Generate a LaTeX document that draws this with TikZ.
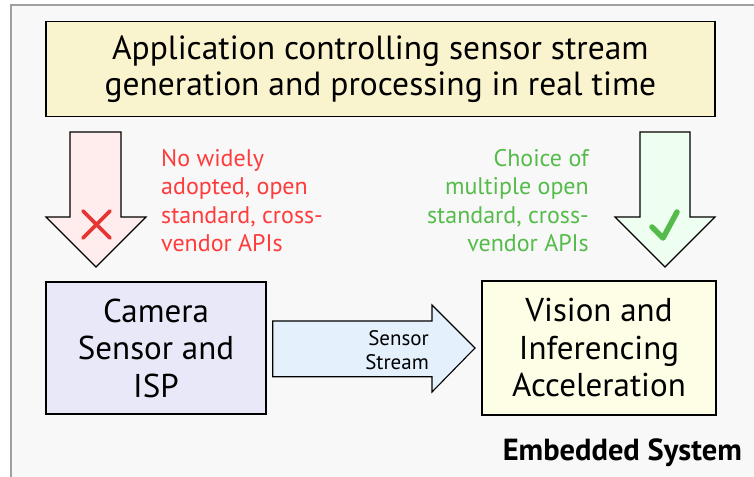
\documentclass[tikz,border=0pt]{standalone}
\usepackage{fontspec}
\setmainfont{PT Sans}
\begin{document}
\begin{tikzpicture}[x=1pt,y=-1pt,
  box/.style={draw=black,line width=1.4pt,inner sep=0pt,align=center,anchor=center},
  blockarrow/.style={draw=black,line width=1.1pt,line join=miter},
  big/.style={font=\fontsize{33}{37.5}\selectfont},
  note/.style={font=\fontsize{24}{28.3}\selectfont,inner sep=0pt}]
\definecolor{framegray}{HTML}{A0A0A0}
\definecolor{bg}{HTML}{F8F8F8}
\definecolor{topfill}{HTML}{FAF4CE}
\definecolor{camfill}{HTML}{E9E8F8}
\definecolor{visfill}{HTML}{FEFEE6}
\definecolor{streamfill}{HTML}{E4F1FD}
\definecolor{redfill}{HTML}{FFEDED}
\definecolor{greenfill}{HTML}{EEFEF0}
\definecolor{redtxt}{HTML}{FF3B3B}
\definecolor{greentxt}{HTML}{55BB4A}
\useasboundingbox (0,0) rectangle (754,476);
\fill[white] (0,0) rectangle (754,476);
\draw[framegray,fill=bg,line width=1.5pt] (11,5) rectangle (770,490);
% top box
\node[box,font=\fontsize{33.5}{36}\selectfont,fill=topfill,minimum width=669,minimum height=95] (app) at (380.4,69.2)
  {Application controlling sensor stream\\generation and processing in real time};
% bottom boxes
\node[box,big,fill=camfill,minimum width=220,minimum height=132] (cam) at (156,348)
  {Camera\\Sensor and\\ISP};
\node[box,big,fill=visfill,minimum width=234,minimum height=134] (vis) at (599,348)
  {Vision and\\Inferencing\\Acceleration};
% left block arrow
\draw[blockarrow,fill=redfill] (70,132) -- (121,132) -- (121,217) -- (146,217) -- (96,267)
  -- (46,217) -- (70,217) -- cycle;
\draw[redtxt!90!black,line width=3.8pt,line cap=round] (83,211) -- (110,238) (110,211) -- (83,238);
% right block arrow
\draw[blockarrow,fill=greenfill] (640,132) -- (690,132) -- (690,217) -- (715,217) -- (665,267)
  -- (615,217) -- (640,217) -- cycle;
\draw[greentxt,line width=5.5pt,line cap=round,line join=round] (652,227) -- (663,238) -- (677,212);
% middle block arrow
\draw[blockarrow,fill=streamfill] (272.7,321) -- (432,321) -- (432,305) -- (475,348)
  -- (432,392) -- (432,376.7) -- (272.7,376.7) -- cycle;
\node[inner sep=0pt,align=right,anchor=east,font=\fontsize{21}{24}\selectfont] (stream) at (429,350)
  {Sensor\\Stream};
% notes
\node[note,text=redtxt,align=left,anchor=west] (no) at (161,200.5)
  {No widely\\adopted, open\\standard, cross-\\vendor APIs};
\node[note,text=greentxt,align=right,anchor=east] (yes) at (589,200.5)
  {Choice of\\multiple open\\standard, cross-\\vendor APIs};
\node[inner sep=0pt,anchor=east,font=\fontsize{30.5}{34}\selectfont\bfseries] (emb) at (742,453)
  {Embedded System};
\end{tikzpicture}
\end{document}
